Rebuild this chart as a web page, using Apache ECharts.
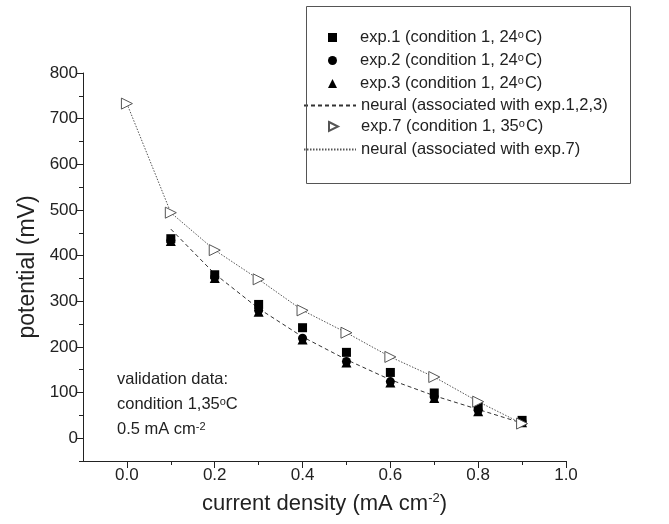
<!DOCTYPE html>
<html>
<head>
<meta charset="utf-8">
<script src="https://cdn.jsdelivr.net/npm/echarts@6/dist/echarts.min.js"></script>
<style>html,body{margin:0;padding:0;background:#fff}#c{width:669px;height:524px}</style>
</head>
<body>
<div id="c"></div>
<script>
// ---- data ----
const xExp = [0.1, 0.2, 0.3, 0.4, 0.5, 0.6, 0.7, 0.8, 0.9];
const exp1 = [437, 358, 293, 242, 188, 144, 99, 70, 39];
const exp2 = [433, 353, 280, 219, 168, 124, 90, 61, 36];
const exp3 = [432, 351, 277, 216, 166, 122, 88, 59, 35];
const neural123 = [458, 360, 284, 222, 172, 128, 93, 63, 33];
const xExp7 = [0.0, 0.1, 0.2, 0.3, 0.4, 0.5, 0.6, 0.7, 0.8, 0.9];
const exp7 = [733, 494, 412, 348, 280, 231, 178, 134, 80, 32];
const neural7 = [733, 494, 412, 348, 280, 231, 178, 134, 80, 32];
const seriesNames = [
  'exp.1 (condition 1, 24°C)',
  'exp.2 (condition 1, 24°C)',
  'exp.3 (condition 1, 24°C)',
  'neural (associated with exp.1,2,3)',
  'exp.7 (condition 1, 35°C)',
  'neural (associated with exp.7)'
];
const xMajorTicks = [0.0, 0.2, 0.4, 0.6, 0.8, 1.0];
const xMinorTicks = [0.1, 0.3, 0.5, 0.7, 0.9];
const yMajorTicks = [0, 100, 200, 300, 400, 500, 600, 700, 800];
const yMinorTicks = [-50, 50, 150, 250, 350, 450, 550, 650, 750];
const annotation = ['validation data:', 'condition 1,35°C', '0.5 mA cm{sup|-2}'];

const pair = (xs, ys) => xs.map((x, i) => [x, ys[i]]);
const FONT = 'Liberation Sans, Arial, sans-serif';
const TXT = '#222';

const chart = echarts.init(document.getElementById('c'), null, {renderer: 'canvas'});
const supStyle = {fontSize: 11, verticalAlign: 'top', lineHeight: 5, fontFamily: FONT, color: TXT, padding: [0, 1, 0, 0]};
const legendText = {fontFamily: FONT, fontSize: 16.5, color: TXT, lineHeight: 16, rich: {sup: supStyle}};
const legendFmt = n => n.replace('°', '{sup|o}');
const rowTop = i => 29 + 22 * i;
const markerLegend = (names, top) => ({
  orient: 'vertical', left: 328, top: top, padding: 0, itemWidth: 9, itemHeight: 9, itemGap: 6,
  data: names, formatter: legendFmt, selectedMode: false,
  textStyle: Object.assign({}, legendText, {padding: [0, 0, 0, 18]})
});
const lineLegend = (names, top) => ({
  orient: 'vertical', left: 303, top: top, padding: 0, itemWidth: 52, itemHeight: 9, itemGap: 6,
  data: names, formatter: legendFmt, selectedMode: false,
  textStyle: legendText
});

chart.setOption({
  animation: false,
  backgroundColor: '#fff',
  grid: {left: 83, right: 103, top: 73, bottom: 63},
  xAxis: [
    {
      type: 'value', min: -0.1, max: 1.0,
      axisLine: {show: true, onZero: false, lineStyle: {color: TXT, width: 1}},
      splitLine: {show: false},
      name: 'current density (mA cm{sup|-2})',
      nameLocation: 'middle', nameGap: 31,
      nameTextStyle: {fontFamily: FONT, fontSize: 22, color: TXT,
        rich: {sup: {fontSize: 13, verticalAlign: 'top', padding: [0, 0, 10, 0], fontFamily: FONT, color: TXT}}},
      axisTick: {show: true, inside: false, length: 7, customValues: xMajorTicks, lineStyle: {color: TXT}},
      axisLabel: {customValues: xMajorTicks, fontFamily: FONT, fontSize: 17, color: TXT, margin: 6,
        formatter: v => v.toFixed(1)}
    },
    {
      type: 'value', min: -0.1, max: 1.0, position: 'bottom',
      axisLine: {show: false, onZero: false}, splitLine: {show: false},
      axisTick: {show: true, inside: false, length: 4, customValues: xMinorTicks, lineStyle: {color: TXT}},
      axisLabel: {show: false}
    }
  ],
  yAxis: [
    {
      type: 'value', min: -50, max: 800,
      axisLine: {show: true, onZero: false, lineStyle: {color: TXT, width: 1}},
      splitLine: {show: false},
      name: 'potential (mV)', nameLocation: 'middle', nameGap: 44,
      nameTextStyle: {fontFamily: FONT, fontSize: 23, color: TXT},
      axisTick: {show: true, inside: false, length: 6, customValues: yMajorTicks, lineStyle: {color: TXT}},
      axisLabel: {customValues: yMajorTicks, fontFamily: FONT, fontSize: 17, color: TXT, margin: 5}
    },
    {
      type: 'value', min: -50, max: 800, position: 'left',
      axisLine: {show: false, onZero: false}, splitLine: {show: false},
      axisTick: {show: true, inside: false, length: 4, customValues: yMinorTicks, lineStyle: {color: TXT}},
      axisLabel: {show: false}
    }
  ],
  legend: [
    markerLegend(seriesNames.slice(0, 3), rowTop(0)),
    lineLegend([seriesNames[3]], rowTop(3) + 2),
    markerLegend([{name: seriesNames[4], icon: 'path://M0,0L10,5L0,10Z'}], rowTop(4) + 1),
    lineLegend([seriesNames[5]], rowTop(5) + 2)
  ],
  graphic: [
    {type: 'rect', left: 304, top: 4, shape: {width: 324, height: 177},
      style: {fill: 'none', stroke: '#555', lineWidth: 1}, z: 10},
    ...annotation.map((t, i) => ({
      type: 'text', left: 117, top: 371 + i * 25, z: 10,
      style: {text: t.replace('°', '{sup|o}'), fontFamily: FONT, fontSize: 16.5, fill: TXT,
        rich: {sup: {fontSize: 11, verticalAlign: 'top', lineHeight: 5, fontFamily: FONT, fill: TXT}}}
    }))
  ],
  series: [
    {name: seriesNames[0], type: 'scatter', symbol: 'rect', symbolSize: 9,
      itemStyle: {color: '#000', opacity: 1}, data: pair(xExp, exp1), z: 5},
    {name: seriesNames[1], type: 'scatter', symbol: 'circle', symbolSize: 9,
      itemStyle: {color: '#000', opacity: 1}, data: pair(xExp, exp2), z: 4},
    {name: seriesNames[2], type: 'scatter', symbol: 'triangle', symbolSize: 10,
      itemStyle: {color: '#000', opacity: 1}, data: pair(xExp, exp3), z: 4},
    {name: seriesNames[3], type: 'line', symbol: 'none', smooth: false,
      lineStyle: {color: '#333', width: 1, type: [4, 3]}, itemStyle: {color: '#333', opacity: 0},
      data: pair(xExp, neural123), z: 3},
    {name: seriesNames[4], type: 'scatter', symbol: 'triangle', symbolSize: 11, symbolRotate: -90,
      itemStyle: {color: '#fff', borderColor: '#555', borderWidth: 1, opacity: 1}, data: pair(xExp7, exp7), z: 6},
    {name: seriesNames[5], type: 'line', symbol: 'none', smooth: false,
      lineStyle: {color: '#555', width: 1, type: [1.5, 1.5]}, itemStyle: {color: '#555', opacity: 0},
      data: pair(xExp7, neural7), z: 3}
  ]
});
</script>
</body>
</html>
